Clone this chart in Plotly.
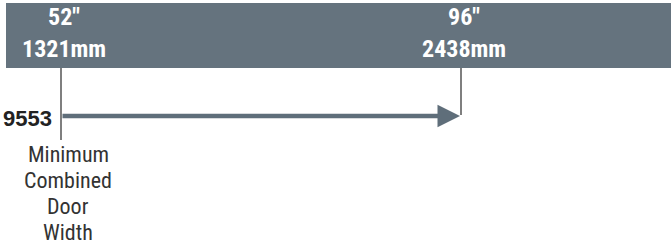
import plotly.graph_objects as go

# ---- data ----
tick_values = [52, 96]                 # inches
tick_labels_in = ['52"', '96"']
tick_labels_mm = ["1321mm", "2438mm"]
series_name = "9553"
range_start = 52
range_end = 96
caption = ["Minimum", "Combined", "Door", "Width"]

W, H = 671, 251
px_per_in = 400 / 44.0
x_left = 52 - 61 / px_per_in
x_right = x_left + W / px_per_in

band_color = "#65737e"
arrow_color = "#5f6e7a"
label_font = "Liberation Sans Narrow, Roboto Condensed, Roboto, sans-serif"

fig = go.Figure()

# header band
fig.add_shape(type="rect", xref="paper", yref="y", x0=6 / W, x1=1, y0=3, y1=68,
              fillcolor=band_color, line=dict(width=0), layer="below")

# tick lines
tick_bottoms = [140, 115]
for v, yb in zip(tick_values, tick_bottoms):
    fig.add_trace(go.Scatter(x=[v, v], y=[68, yb], mode="lines",
                             line=dict(color="#555555", width=1.5),
                             hoverinfo="skip", showlegend=False))

# header labels
for v, a, b in zip(tick_values, tick_labels_in, tick_labels_mm):
    fig.add_annotation(x=v, y=17, text=f"<b>{a}</b>", showarrow=False, xshift=3,
                       font=dict(family=label_font, size=24, color="white"))
    fig.add_annotation(x=v, y=49, text=f"<b>{b}</b>", showarrow=False, xshift=3,
                       font=dict(family=label_font, size=24, color="white"))

# arrow
fig.add_annotation(x=range_end, y=116, ax=range_start, ay=116, axref="x", ayref="y",
                   xref="x", yref="y", text="", showarrow=True,
                   arrowhead=2, arrowsize=1.0, arrowwidth=4.5,
                   arrowcolor=arrow_color, standoff=1, startstandoff=0)

# series label
fig.add_annotation(x=range_start, y=118, text=f"<b>{series_name}</b>", showarrow=False,
                   xanchor="right", xshift=-7,
                   font=dict(family="Liberation Sans, Arial, sans-serif", size=22, color="#222222"))

# caption (one line each, 26px apart)
for i, line in enumerate(caption):
    fig.add_annotation(x=range_start, y=154 + 26 * i, text=line, showarrow=False,
                       xanchor="center", xshift=7,
                       font=dict(family=label_font, size=22, color="#333333"))

fig.update_xaxes(range=[x_left, x_right], visible=False, fixedrange=True)
fig.update_yaxes(range=[H, 0], visible=False, fixedrange=True)
fig.update_layout(width=W, height=H, margin=dict(l=0, r=0, t=0, b=0),
                  plot_bgcolor="white", paper_bgcolor="white", showlegend=False)

fig.write_html("out.html", config={"displayModeBar": False},
               post_script="document.body.style.margin='0';")
